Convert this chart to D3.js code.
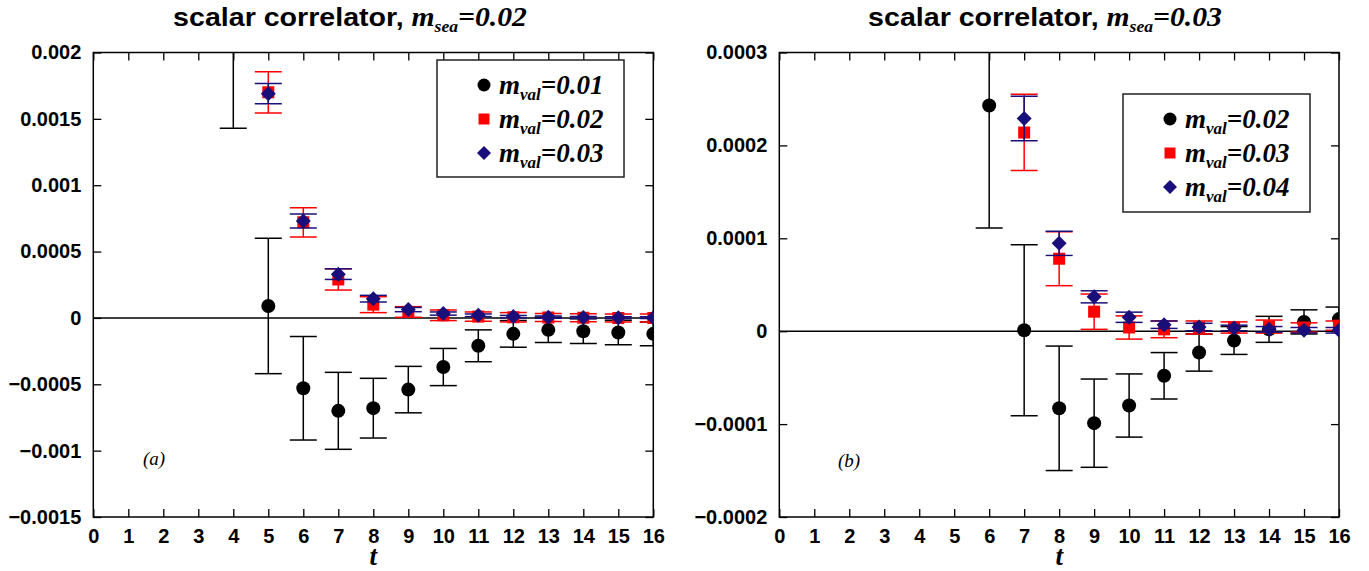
<!DOCTYPE html>
<html>
<head>
<meta charset="utf-8">
<script src="https://cdn.jsdelivr.net/npm/d3@7"></script>
<style>
  body { margin: 0; background: #fff; }
  svg { display: block; }
</style>
</head>
<body>
<div id="chart"></div>
<script>
// time slices on the x axis
var tTicks = d3.range(0, 17);

// panel (a): m_sea = 0.02
var leftYTicks = [-0.0015, -0.001, -0.0005, 0, 0.0005, 0.001, 0.0015, 0.002];
var leftYLabels = ["\u22120.0015", "\u22120.001", "\u22120.0005", "0", "0.0005", "0.001", "0.0015", "0.002"];

var aBlackT   = [4, 5, 6, 7, 8, 9, 10, 11, 12, 13, 14, 15, 16];
var aBlackVal = [0.0026, 0.00009, -0.00053, -0.0007, -0.00068, -0.00054, -0.00037, -0.00021, -0.00012, -0.00009, -0.0001, -0.00011, -0.00012];
var aBlackErr = [0.00117, 0.00051, 0.00039, 0.00029, 0.000225, 0.000175, 0.00014, 0.00012, 0.0001, 0.000095, 0.000093, 0.000093, 0.00009];

var aRedT   = [5, 6, 7, 8, 9, 10, 11, 12, 13, 14, 15, 16];
var aRedVal = [0.0017, 0.00072, 0.00029, 0.0001, 0.000045, 0.00002, 0.00001, 0.000005, 0.000003, 0.000001, 0, 0];
var aRedErr = [0.000155, 0.00011, 0.00008, 0.00006, 0.00004, 0.00004, 0.000035, 0.000035, 0.00003, 0.00003, 0.00003, 0.00003];

var aBlueT   = [5, 6, 7, 8, 9, 10, 11, 12, 13, 14, 15, 16];
var aBlueVal = [0.00169, 0.00073, 0.00033, 0.000145, 0.000063, 0.000033, 0.00002, 0.00001, 0.000006, 0.000003, 0.000002, 0.000002];
var aBlueErr = [0.000077, 0.000053, 0.00004, 0.000025, 0.000016, 0.000012, 0.00001, 0.000009, 0.000008, 0.000008, 0.000007, 0.000007];

// panel (b): m_sea = 0.03
var rightYTicks = [-0.0002, -0.0001, 0, 0.0001, 0.0002, 0.0003];
var rightYLabels = ["\u22120.0002", "\u22120.0001", "0", "0.0001", "0.0002", "0.0003"];

var bBlackT   = [6, 7, 8, 9, 10, 11, 12, 13, 14, 15, 16];
var bBlackVal = [0.000243, 0.000001, -0.000083, -0.000099, -0.00008, -0.000048, -0.000023, -0.00001, 0.000002, 0.00001, 0.000013];
var bBlackErr = [0.000132, 0.000092, 0.000067, 0.0000475, 0.000034, 0.000025, 0.00002, 0.000015, 0.000014, 0.000013, 0.000013];

var bRedT   = [7, 8, 9, 10, 11, 12, 13, 14, 15, 16];
var bRedVal = [0.000214, 0.000078, 0.000021, 0.000004, 0.000002, 0.000004, 0.000004, 0.000005, 0.000004, 0.000006];
var bRedErr = [0.000041, 0.000029, 0.000019, 0.0000125, 0.000009, 0.000007, 0.000006, 0.000007, 0.000005, 0.000005];

var bBlueT   = [7, 8, 9, 10, 11, 12, 13, 14, 15, 16];
var bBlueVal = [0.000229, 0.0000946, 0.000037, 0.000015, 0.000007, 0.0000045, 0.0000035, 0.000002, 0.000001, 0.000001];
var bBlueErr = [0.000024, 0.000013, 0.0000065, 0.0000055, 0.000004, 0.000004, 0.000003, 0.000003, 0.000003, 0.000003];

var SANS = "'Liberation Sans', Arial, Helvetica, sans-serif";
var SERIF = "'Liberation Serif', 'Times New Roman', serif";
var NAVY = "#1a0f7a";

function zip(ts, vs, es) {
  return ts.map(function(t, i) { return {t: t, v: vs[i], e: es[i]}; });
}

var svg = d3.select("#chart")
  .append("svg")
    .attr("width", 1369)
    .attr("height", 571);

function drawPanel(p) {
  var x = d3.scaleLinear().domain([0, 16]).range([p.left, p.right]);
  var y = d3.scaleLinear().domain(p.yDomain).range([517, 52.5]);
  var g = svg.append("g");

  // title
  var title = g.append("text")
    .attr("transform", "translate(" + p.titleX + ",26) scale(1.1,1)")
    .attr("text-anchor", "middle")
    .style("font-weight", "bold")
    .style("font-size", "26px");
  title.append("tspan").style("font-family", SANS).text("scalar correlator, ");
  title.append("tspan").style("font-family", SERIF).style("font-style", "italic").style("font-size", "27px").text("m");
  title.append("tspan").style("font-family", SERIF).style("font-style", "italic").style("font-size", "16px").attr("dy", 6).text("sea");
  title.append("tspan").style("font-family", SERIF).style("font-style", "italic").style("font-size", "27px").attr("dy", -6).text(p.titleVal);

  // inward ticks on all four sides
  var fmt = function(d) { return p.yLabels[p.yTicks.indexOf(d)]; };
  var axes = [
    g.append("g").attr("transform", "translate(" + p.left + ",0)")
      .call(d3.axisLeft(y).tickValues(p.yTicks).tickFormat(fmt).tickSizeInner(-8).tickSizeOuter(0).tickPadding(12)),
    g.append("g").attr("transform", "translate(" + p.right + ",0)")
      .call(d3.axisRight(y).tickValues(p.yTicks).tickFormat("").tickSizeInner(-8).tickSizeOuter(0)),
    g.append("g").attr("transform", "translate(0,517)")
      .call(d3.axisBottom(x).tickValues(tTicks).tickFormat(d3.format("d")).tickSizeInner(-8).tickSizeOuter(0).tickPadding(12)),
    g.append("g").attr("transform", "translate(0,52.5)")
      .call(d3.axisTop(x).tickValues(tTicks).tickFormat("").tickSizeInner(-8).tickSizeOuter(0))
  ];
  axes.forEach(function(a) {
    a.select(".domain").remove();
    a.selectAll(".tick line").attr("stroke", "#000").attr("stroke-width", 1.3);
    a.selectAll(".tick text")
      .attr("fill", "#000")
      .style("font-family", SANS)
      .style("font-weight", "bold")
      .style("font-size", "20px");
  });

  // frame
  g.append("rect")
    .attr("x", p.left).attr("y", 52.5)
    .attr("width", p.right - p.left).attr("height", 517 - 52.5)
    .attr("fill", "none").attr("stroke", "#000").attr("stroke-width", 1.5);

  // zero line
  g.append("line")
    .attr("x1", p.left).attr("x2", p.right)
    .attr("y1", y(0)).attr("y2", y(0))
    .attr("stroke", "#000").attr("stroke-width", 1.5);

  // x label
  g.append("text")
    .attr("x", (p.left + p.right) / 2).attr("y", 565)
    .attr("text-anchor", "middle")
    .style("font-family", SERIF).style("font-style", "italic").style("font-weight", "bold")
    .style("font-size", "27px")
    .text("t");

  // panel tag
  g.append("text")
    .attr("x", p.tagX).attr("y", p.tagY)
    .style("font-family", SERIF).style("font-style", "italic")
    .style("font-size", "19px")
    .text(p.tag);

  // clipped data area
  var clipId = "clip" + p.tag.replace(/\W/g, "");
  g.append("clipPath").attr("id", clipId)
    .append("rect")
      .attr("x", p.left).attr("y", 52.5)
      .attr("width", p.right - p.left).attr("height", 517 - 52.5);
  var plot = g.append("g").attr("clip-path", "url(#" + clipId + ")");

  var cap = 13.5;
  p.series.forEach(function(s) {
    var sg = plot.append("g");
    var bars = sg.selectAll(".err").data(s.data).enter().append("g");
    bars.append("line")
      .attr("x1", function(d) { return x(d.t); })
      .attr("x2", function(d) { return x(d.t); })
      .attr("y1", function(d) { return y(d.v - d.e); })
      .attr("y2", function(d) { return y(d.v + d.e); });
    bars.append("line")
      .attr("x1", function(d) { return x(d.t) - cap; })
      .attr("x2", function(d) { return x(d.t) + cap; })
      .attr("y1", function(d) { return y(d.v + d.e); })
      .attr("y2", function(d) { return y(d.v + d.e); });
    bars.append("line")
      .attr("x1", function(d) { return x(d.t) - cap; })
      .attr("x2", function(d) { return x(d.t) + cap; })
      .attr("y1", function(d) { return y(d.v - d.e); })
      .attr("y2", function(d) { return y(d.v - d.e); });
    bars.selectAll("line").attr("stroke", s.color).attr("stroke-width", 1.5);

    sg.selectAll(".pt").data(s.data).enter().append("path")
      .attr("transform", function(d) { return "translate(" + x(d.t) + "," + y(d.v) + ")"; })
      .attr("d", s.shape)
      .attr("fill", s.color);
  });

  // legend
  var L = p.legend;
  var lg = g.append("g");
  lg.append("rect")
    .attr("x", L.x).attr("y", L.y).attr("width", L.w).attr("height", L.h)
    .attr("fill", "#fff").attr("stroke", "#222").attr("stroke-width", 1.5);
  p.series.forEach(function(s, i) {
    var cy = L.y + 25 + i * 34;
    lg.append("path")
      .attr("transform", "translate(" + (L.x + 47) + "," + cy + ")")
      .attr("d", s.legendShape)
      .attr("fill", s.color);
    var tx = lg.append("text")
      .attr("x", L.x + 62).attr("y", cy + 9)
      .style("font-family", SERIF).style("font-style", "italic").style("font-weight", "bold")
      .style("font-size", "27px");
    tx.append("tspan").text("m");
    tx.append("tspan").style("font-size", "17px").attr("dy", 6).text("val");
    tx.append("tspan").attr("dy", -6).text(s.label);
  });
}

var circle = "M0,-7A7,7 0 1,1 0,7A7,7 0 1,1 0,-7Z";
var square = "M-6,-6H6V6H-6Z";
var diamond = "M0,-7.5L7.5,0L0,7.5L-7.5,0Z";
var circleL = "M0,-6.5A6.5,6.5 0 1,1 0,6.5A6.5,6.5 0 1,1 0,-6.5Z";
var squareL = "M-5.5,-5.5H5.5V5.5H-5.5Z";
var diamondL = "M0,-7L7,0L0,7L-7,0Z";

drawPanel({
  left: 93.3, right: 653.3,
  yDomain: [-0.0015, 0.002], yTicks: leftYTicks, yLabels: leftYLabels,
  titleX: 350, titleVal: "=0.02",
  tag: "(a)", tagX: 143, tagY: 465,
  legend: {x: 437, y: 60, w: 187, h: 117},
  series: [
    {data: zip(aBlackT, aBlackVal, aBlackErr), color: "#000", shape: circle, legendShape: circleL, label: "=0.01"},
    {data: zip(aRedT, aRedVal, aRedErr), color: "#ff0000", shape: square, legendShape: squareL, label: "=0.02"},
    {data: zip(aBlueT, aBlueVal, aBlueErr), color: NAVY, shape: diamond, legendShape: diamondL, label: "=0.03"}
  ]
});

drawPanel({
  left: 779.3, right: 1339,
  yDomain: [-0.0002, 0.0003], yTicks: rightYTicks, yLabels: rightYLabels,
  titleX: 1045, titleVal: "=0.03",
  tag: "(b)", tagX: 838, tagY: 467,
  legend: {x: 1123, y: 94, w: 187, h: 118},
  series: [
    {data: zip(bBlackT, bBlackVal, bBlackErr), color: "#000", shape: circle, legendShape: circleL, label: "=0.02"},
    {data: zip(bRedT, bRedVal, bRedErr), color: "#ff0000", shape: square, legendShape: squareL, label: "=0.03"},
    {data: zip(bBlueT, bBlueVal, bBlueErr), color: NAVY, shape: diamond, legendShape: diamondL, label: "=0.04"}
  ]
});
</script>
</body>
</html>
